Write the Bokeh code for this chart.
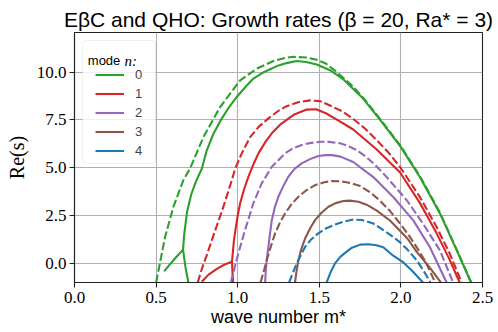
import math
from bokeh.plotting import figure
from bokeh.models import (Range1d, FixedTicker, PrintfTickFormatter, Label,
                          Legend, LegendItem, BoxAnnotation)
from bokeh.embed import file_html
from bokeh.resources import INLINE

# ---------------- data ----------------
modes = ["0", "1", "2", "3", "4"]
colors = ["#2ca02c", "#d62728", "#9467bd", "#8c564b", "#1f77b4"]

# mode 0
m0_solid_x = [0.698, 0.680, 0.665, 0.672, 0.690, 0.715, 0.745, 0.780, 0.810, 0.850, 0.902, 0.950, 0.994,
              1.050, 1.096, 1.150, 1.198, 1.250, 1.300, 1.362, 1.420, 1.484, 1.566, 1.650, 1.770, 1.882,
              2.000, 2.117, 2.240, 2.342, 2.430]
m0_solid_y = [-1.00, -0.20, 0.72, 1.50, 2.70, 3.60, 4.30, 4.95, 5.90, 6.75, 7.57, 8.20, 8.70,
              9.25, 9.66, 9.95, 10.15, 10.35, 10.47, 10.58, 10.53, 10.40, 10.10, 9.60, 8.60, 7.40,
              6.08, 4.50, 2.60, 0.68, -1.00]
m0_branch_x = [0.549, 0.578, 0.606, 0.635, 0.665]
m0_branch_y = [-0.42, -0.12, 0.16, 0.44, 0.72]
m0_dash_x = [0.500, 0.530, 0.555, 0.606, 0.667, 0.708, 0.790, 0.892, 1.015, 1.117, 1.219, 1.300, 1.341,
             1.420, 1.484, 1.540, 1.600, 1.700, 1.770, 1.882, 2.000, 2.117, 2.240, 2.342, 2.430]
m0_dash_y = [-1.00, 0.30, 1.38, 2.95, 4.35, 4.96, 6.60, 8.17, 9.57, 10.18, 10.58, 10.76, 10.80,
             10.76, 10.65, 10.45, 10.05, 9.30, 8.65, 7.45, 6.12, 4.55, 2.64, 0.72, -0.98]

# mode 1
m1_solid_x = [0.972, 0.968, 0.965, 0.970, 0.977, 0.986, 1.000, 1.015, 1.040, 1.066, 1.100, 1.127, 1.170,
              1.209, 1.260, 1.300, 1.350, 1.423, 1.480, 1.540, 1.600, 1.708, 1.852, 1.995, 2.117, 2.219,
              2.300, 2.360]
m1_solid_y = [-1.00, -0.45, 0.09, 0.55, 1.20, 1.74, 2.50, 3.14, 3.90, 4.53, 5.25, 5.75, 6.35,
              6.80, 7.25, 7.50, 7.80, 8.04, 8.06, 7.85, 7.55, 7.00, 5.95, 4.75, 3.15, 1.57,
              0.17, -1.00]
m1_branch_x = [0.780, 0.820, 0.872, 0.920, 0.965]
m1_branch_y = [-0.96, -0.60, -0.29, -0.06, 0.09]
m1_dash_x = [0.755, 0.780, 0.810, 0.862, 0.912, 0.964, 0.984, 1.025, 1.076, 1.130, 1.188, 1.250, 1.300,
             1.370, 1.443, 1.505, 1.566, 1.640, 1.708, 1.780, 1.852, 1.925, 1.995, 2.117, 2.219, 2.300,
             2.372]
m1_dash_y = [-1.00, -0.30, 0.42, 1.72, 2.95, 4.35, 4.94, 5.75, 6.60, 7.15, 7.58, 7.98, 8.22,
             8.42, 8.52, 8.48, 8.25, 7.95, 7.55, 7.05, 6.44, 5.78, 5.04, 3.46, 1.90, 0.50,
             -1.00]

# mode 2
m2_solid_x = [1.168, 1.172, 1.178, 1.188, 1.198, 1.209, 1.228, 1.249, 1.280, 1.310, 1.350, 1.392, 1.443,
              1.494, 1.540, 1.580, 1.630, 1.708, 1.831, 1.953, 2.076, 2.178, 2.280]
m2_solid_y = [-1.00, -0.40, 0.17, 0.86, 1.55, 2.26, 2.95, 3.48, 4.05, 4.53, 4.95, 5.23, 5.45,
              5.61, 5.66, 5.66, 5.58, 5.30, 4.51, 3.47, 2.25, 0.84, -1.00]
m2_dash_x = [0.958, 0.980, 1.004, 1.045, 1.096, 1.147, 1.209, 1.290, 1.340, 1.392, 1.450, 1.515, 1.560,
             1.627, 1.668, 1.730, 1.790, 1.850, 1.913, 2.036, 2.137, 2.239, 2.320]
m2_dash_y = [-1.00, -0.25, 0.52, 1.74, 3.14, 4.18, 5.05, 5.75, 6.02, 6.19, 6.30, 6.36, 6.35,
             6.28, 6.17, 5.92, 5.55, 5.08, 4.51, 3.30, 2.06, 0.68, -1.00]

# mode 3
m3_solid_x = [1.351, 1.360, 1.372, 1.390, 1.413, 1.445, 1.474, 1.515, 1.556, 1.600, 1.648, 1.688, 1.740,
              1.790, 1.852, 1.933, 1.975, 2.040, 2.097, 2.170, 2.245]
m3_solid_y = [-1.00, -0.45, 0.17, 0.75, 1.30, 1.85, 2.26, 2.66, 2.96, 3.15, 3.26, 3.28, 3.22,
              3.07, 2.76, 2.24, 1.88, 1.30, 0.60, -0.15, -1.00]
m3_dash_x = [1.140, 1.160, 1.178, 1.200, 1.229, 1.260, 1.290, 1.330, 1.372, 1.420, 1.474, 1.530, 1.576,
             1.627, 1.658, 1.700, 1.750, 1.810, 1.872, 1.935, 1.995, 2.050, 2.097, 2.150, 2.210]
m3_dash_y = [-1.00, -0.40, 0.17, 0.80, 1.57, 2.15, 2.61, 3.10, 3.48, 3.82, 4.09, 4.24, 4.30,
             4.29, 4.25, 4.18, 4.05, 3.72, 3.28, 2.72, 2.08, 1.45, 0.84, 0.10, -1.00]

# mode 4
m4_solid_x = [1.545, 1.570, 1.596, 1.630, 1.658, 1.700, 1.750, 1.800, 1.850, 1.892, 1.953, 2.015, 2.070,
              2.135]
m4_solid_y = [-1.00, -0.45, 0.00, 0.35, 0.55, 0.82, 0.98, 1.00, 0.95, 0.84, 0.40, 0.05, -0.40,
              -1.00]
m4_dash_x = [1.315, 1.340, 1.362, 1.385, 1.413, 1.450, 1.494, 1.540, 1.596, 1.658, 1.708, 1.760, 1.831,
             1.900, 1.953, 1.995, 2.040, 2.097, 2.140, 2.180]
m4_dash_y = [-1.00, -0.45, 0.00, 0.40, 0.86, 1.25, 1.57, 1.82, 2.03, 2.20, 2.29, 2.27, 2.08,
             1.70, 1.38, 1.10, 0.72, 0.16, -0.40, -0.98]

x_ticks = [0.0, 0.5, 1.0, 1.5, 2.0, 2.5]
y_ticks = [0.0, 2.5, 5.0, 7.5, 10.0]

title_text = "EβC and QHO: Growth rates (β = 20, Ra* = 3)"
x_label = "wave number m*"
y_label = "Re(s)"

solid_curves = [
    [(m0_solid_x, m0_solid_y), (m0_branch_x, m0_branch_y)],
    [(m1_solid_x, m1_solid_y), (m1_branch_x, m1_branch_y)],
    [(m2_solid_x, m2_solid_y)],
    [(m3_solid_x, m3_solid_y)],
    [(m4_solid_x, m4_solid_y)],
]
dashed_curves = [
    (m0_dash_x, m0_dash_y), (m1_dash_x, m1_dash_y), (m2_dash_x, m2_dash_y),
    (m3_dash_x, m3_dash_y), (m4_dash_x, m4_dash_y),
]

# ---------------- figure ----------------
SANS = "Liberation Sans"
SERIF = "Liberation Serif"
W, H = 498, 332
BL, BR, BT, BB = 74, 16, 32, 50
FRAME_W = W - BL - BR
FRAME_H = H - BT - BB

p = figure(width=W, height=H, output_backend="svg", toolbar_location=None,
           x_range=Range1d(0, 2.5), y_range=Range1d(-1.0, 12.07),
           min_border_left=BL, min_border_right=BR, min_border_top=BT, min_border_bottom=BB)
p.background_fill_color = "white"
p.border_fill_color = "white"
p.outline_line_color = "#222222"
p.outline_line_width = 1.1

p.title.text = title_text
p.title.text_font = SANS
p.title.text_font_size = "21px"
p.title.text_font_style = "normal"
p.title.align = "center"
p.title.standoff = 3
p.title.text_color = "black"

for ax, ticks in ((p.xaxis[0], x_ticks), (p.yaxis[0], y_ticks)):
    ax.ticker = FixedTicker(ticks=ticks)
    ax.formatter = PrintfTickFormatter(format="%.1f")
    ax.major_label_text_font = SERIF
    ax.major_label_text_font_size = "17px"
    ax.major_label_text_color = "black"
    ax.major_tick_out = 5
    ax.major_tick_in = 0
    ax.minor_tick_line_color = None
    ax.axis_line_color = "#222222"
    ax.axis_line_width = 1.1
    ax.major_tick_line_color = "#222222"
    ax.major_tick_line_width = 1.1
    ax.axis_label_text_color = "black"
    ax.axis_label_text_font_style = "normal"
p.xaxis[0].major_label_standoff = 4
p.yaxis[0].major_label_standoff = 3

p.xaxis[0].axis_label = x_label
p.xaxis[0].axis_label_text_font = SANS
p.xaxis[0].axis_label_text_font_size = "18px"
p.xaxis[0].axis_label_standoff = 1
p.yaxis[0].axis_label = y_label
p.yaxis[0].axis_label_text_font = SERIF
p.yaxis[0].axis_label_text_font_size = "20px"
p.yaxis[0].axis_label_standoff = 6

p.grid.grid_line_color = "#b0b0b0"
p.grid.grid_line_width = 1.1

legend_items = []
for i in range(5):
    rends = []
    for xs, ys in solid_curves[i]:
        r = p.line(xs, ys, line_color=colors[i], line_width=2.1)
        rends.append(r)
    dx, dy = dashed_curves[i]
    p.line(dx, dy, line_color=colors[i], line_width=2.1, line_dash="8 3")
    legend_items.append(LegendItem(label=modes[i], renderers=[rends[0]]))

# canvas -> frame-screen coordinates (x from frame left, y up from frame bottom)
FRAME_BOTTOM = BT + FRAME_H


def sx(X):
    return X - BL


def sy(Y):
    return FRAME_BOTTOM - Y


def add_text(text, X, Y, font, size, style="normal"):
    p.add_layout(Label(x=sx(X), y=sy(Y), x_units="screen", y_units="screen", text=text,
                       text_font=font, text_font_size=size, text_font_style=style,
                       text_align="left", text_baseline="alphabetic", text_color="black"))


# legend frame
p.add_layout(BoxAnnotation(left=sx(82), right=sx(155), top=sy(40), bottom=sy(163),
                           left_units="screen", right_units="screen",
                           top_units="screen", bottom_units="screen",
                           fill_color="white", fill_alpha=0.8,
                           line_color="#cccccc", line_width=1.1, border_radius=4))

legend = Legend(items=legend_items, location=(sx(95), sy(157.5)),
                padding=0, spacing=4, glyph_width=29, glyph_height=15, label_height=15,
                label_standoff=11, label_text_font=SANS, label_text_font_size="13px",
                background_fill_alpha=0, border_line_alpha=0, margin=0)
p.add_layout(legend)

add_text("mode", 87.3, 60, SANS, "13px")
add_text("n:", 124, 60, SERIF, "15px", style="italic")

open("out.html", "w").write(file_html(p, INLINE))
